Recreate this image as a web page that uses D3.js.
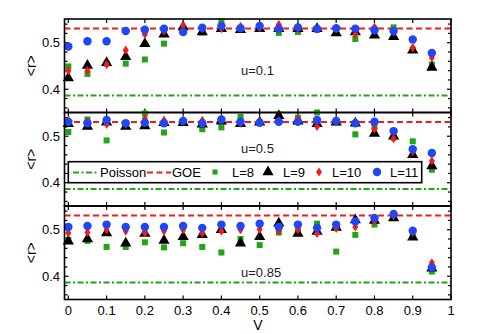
<!DOCTYPE html>
<html><head><meta charset="utf-8">
<script src="https://cdn.jsdelivr.net/npm/d3@7"></script>
<style>body{margin:0;background:#fff}svg{display:block}text{font-family:"Liberation Sans",Arial,sans-serif}</style>
</head><body><svg id="c" width="498" height="334"></svg>
<script>
const vValues = [0,0.05,0.1,0.15,0.2,0.25,0.3,0.35,0.4,0.45,0.5,0.55,0.6,0.65,0.7,0.75,0.8,0.85,0.9,0.95];
const panelLabels = ["u=0.1","u=0.5","u=0.85"];
const seriesNames = ["L=8","L=9","L=10","L=11"];
const xTicks = [0,0.1,0.2,0.3,0.4,0.5,0.6,0.7,0.8,0.9,1];
const yTicks = [0.4,0.5];
const yMinorTicks = [0.36,0.38,0.40,0.42,0.44,0.46,0.48,0.50,0.52,0.54];
const goeValue = 0.5307;
const poissonValue = 0.3863;

// u=0.1
const u01_L8  = [0.449,0.433,0.455,0.455,0.464,0.498,0.530,0.522,0.546,0.529,0.530,0.521,0.523,0.528,0.528,0.508,0.530,0.533,0.485,0.453];
const u01_L9  = [0.424,0.451,0.457,0.470,0.498,0.518,0.534,0.523,0.530,0.528,0.530,0.530,0.530,0.530,0.521,0.523,0.516,0.513,0.484,0.447];
const u01_L10 = [0.440,0.440,0.453,0.484,0.518,0.525,0.537,0.530,0.530,0.535,0.532,0.539,0.530,0.529,0.530,0.518,0.533,0.523,0.489,0.468];
const u01_L11 = [0.492,0.503,0.503,0.525,0.528,0.530,0.523,0.532,0.536,0.531,0.536,0.530,0.533,0.530,0.531,0.530,0.527,0.525,0.507,0.478];
// u=0.5
const u05_L8  = [0.509,0.536,0.491,0.525,0.549,0.508,0.528,0.515,0.519,0.542,0.530,0.547,0.540,0.551,0.530,0.504,0.520,0.497,0.489,0.428];
const u05_L9  = [0.527,0.521,0.530,0.521,0.522,0.529,0.529,0.526,0.532,0.527,0.530,0.544,0.532,0.527,0.530,0.528,0.506,0.500,0.460,0.436];
const u05_L10 = [0.534,0.532,0.526,0.526,0.538,0.534,0.532,0.534,0.538,0.528,0.531,0.533,0.538,0.521,0.532,0.530,0.516,0.495,0.467,0.447];
const u05_L11 = [0.531,0.528,0.535,0.528,0.529,0.528,0.533,0.528,0.536,0.531,0.529,0.531,0.531,0.535,0.533,0.528,0.531,0.511,0.472,0.464];
// u=0.85
const u085_L8  = [0.478,0.476,0.463,0.463,0.473,0.462,0.471,0.463,0.451,0.480,0.467,0.494,0.497,0.513,0.453,0.489,0.511,0.531,0.488,0.410];
const u085_L9  = [0.475,0.480,0.493,0.471,0.492,0.477,0.485,0.489,0.500,0.471,0.485,0.514,0.492,0.496,0.505,0.521,0.520,0.525,0.484,0.417];
const u085_L10 = [0.493,0.494,0.500,0.497,0.493,0.497,0.500,0.493,0.497,0.500,0.501,0.497,0.500,0.492,0.503,0.506,0.518,0.530,0.494,0.429];
const u085_L11 = [0.506,0.508,0.511,0.506,0.506,0.506,0.508,0.504,0.511,0.508,0.513,0.506,0.511,0.504,0.511,0.518,0.525,0.534,0.498,0.419];

const panels = [
  [u01_L8,u01_L9,u01_L10,u01_L11],
  [u05_L8,u05_L9,u05_L10,u05_L11],
  [u085_L8,u085_L9,u085_L10,u085_L11]
];
const labelOffsets = [56, 40.5, 71];

const colors = ["#22a514","#000000","#f51a1a","#2146f5"];
const symbols = [d3.symbolSquare, d3.symbolTriangle, d3.symbolDiamond, d3.symbolCircle];
const sizes = [36, 55, 34, 56];

const svg = d3.select("#c");
const left = 64.5, right = 451, top0 = 19, ph = 93.5;
const x = d3.scaleLinear().domain([-0.01,1]).range([left,right]);

function diamondPath(){ return "M0,-4.6L3,0L0,4.6L-3,0Z"; }
function markPath(si, legend){
  if (si===2) return diamondPath();
  return d3.symbol().type(symbols[si]).size(legend && si===0 ? 26 : sizes[si])();
}

panels.forEach((series,pi)=>{
  const top = top0 + pi*ph;
  const y = d3.scaleLinear().domain([0.35,0.551]).range([top+ph, top]);
  const g = svg.append("g");
  g.append("line").attr("x1",x(-0.01)).attr("x2",x(1)).attr("y1",y(poissonValue)).attr("y2",y(poissonValue))
    .attr("stroke","#22a514").attr("stroke-width",2).attr("stroke-dasharray","6,2.5,2,2.5");
  g.append("line").attr("x1",x(-0.01)).attr("x2",x(1)).attr("y1",y(goeValue)).attr("y2",y(goeValue))
    .attr("stroke","#f51a1a").attr("stroke-width",2).attr("stroke-dasharray","6,3.5");
  g.append("text").attr("x",241).attr("y",top+labelOffsets[pi]).attr("font-size",13).attr("fill","#222").text(panelLabels[pi]);
  const tg = g.append("g").attr("stroke","#000").attr("stroke-width",1.2);
  xTicks.forEach(t=>{
    tg.append("line").attr("x1",x(t)).attr("x2",x(t)).attr("y1",top+ph).attr("y2",top+ph-4);
    tg.append("line").attr("x1",x(t)).attr("x2",x(t)).attr("y1",top).attr("y2",top+4);
  });
  yMinorTicks.forEach(t=>{
    const L = yTicks.some(v=>Math.abs(v-t)<1e-9) ? 4 : 3;
    tg.append("line").attr("x1",left).attr("x2",left+L).attr("y1",y(t)).attr("y2",y(t));
    tg.append("line").attr("x1",right).attr("x2",right-L).attr("y1",y(t)).attr("y2",y(t));
  });
  yTicks.forEach(t=>{
    g.append("text").attr("x",60).attr("y",y(t)+4.5).attr("text-anchor","end").attr("font-size",13).text(t.toFixed(1));
  });
  g.append("text").attr("transform",`translate(36,${top+ph/2}) rotate(-90)`).attr("text-anchor","middle")
    .attr("font-size",14).text("<r>");
  series.forEach((vals,si)=>{
    g.append("g").selectAll("path").data(vals).join("path")
      .attr("transform",(d,i)=>`translate(${x(vValues[i])},${y(d)})`)
      .attr("d", markPath(si,false))
      .attr("fill",colors[si]);
  });
  g.append("rect").attr("x",left).attr("y",top).attr("width",right-left).attr("height",ph)
    .attr("fill","none").attr("stroke","#000").attr("stroke-width",1.6);
});

xTicks.forEach(t=>{
  svg.append("text").attr("x",x(t)).attr("y",top0+3*ph+15).attr("text-anchor","middle").attr("font-size",13).text(d3.format("~g")(t));
});
svg.append("text").attr("x",258).attr("y",330).attr("text-anchor","middle").attr("font-size",14).text("V");

const lg = svg.append("g");
lg.append("rect").attr("x",68.3).attr("y",161.7).attr("width",353.4).attr("height",21).attr("fill","#fff").attr("stroke","#000").attr("stroke-width",1.6);
const ly = 172.5;
lg.append("line").attr("x1",73).attr("x2",98).attr("y1",ly).attr("y2",ly).attr("stroke","#22a514").attr("stroke-width",2).attr("stroke-dasharray","6,2.5,2,2.5");
lg.append("text").attr("x",100).attr("y",ly+4.5).attr("font-size",13).text("Poisson");
lg.append("line").attr("x1",147).attr("x2",171).attr("y1",ly).attr("y2",ly).attr("stroke","#f51a1a").attr("stroke-width",2).attr("stroke-dasharray","6,3.5");
lg.append("text").attr("x",172).attr("y",ly+4.5).attr("font-size",13).text("GOE");
const legendSymX = [215,268,319,377];
const legendTextX = [232,283,332,390];
seriesNames.forEach((n,si)=>{
  lg.append("path").attr("transform",`translate(${legendSymX[si]},${ly-0.5})`)
    .attr("d", markPath(si,true))
    .attr("fill",colors[si]);
  lg.append("text").attr("x",legendTextX[si]).attr("y",ly+4.5).attr("font-size",13).text(n);
});
</script></body></html>
